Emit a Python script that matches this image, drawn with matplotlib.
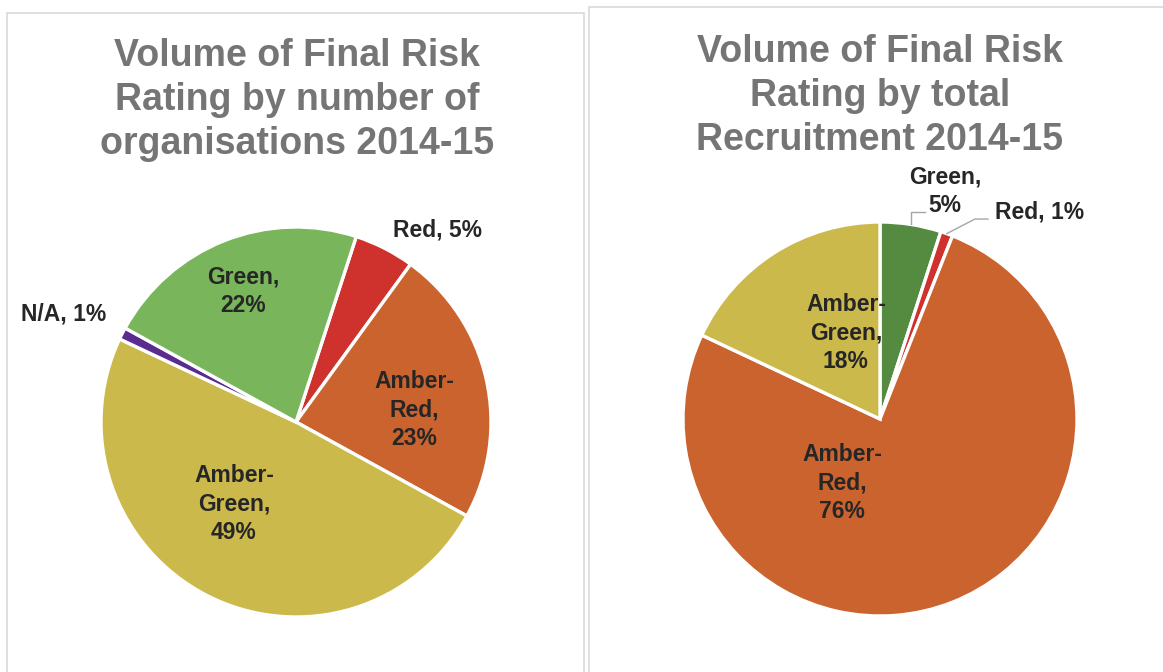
import matplotlib.pyplot as plt
import numpy as np
from matplotlib.patches import Rectangle

# ---- data ----
org_labels = ['Red', 'Amber-\nRed', 'Amber-\nGreen', 'N/A', 'Green']
org_values = [5, 23, 49, 1, 22]
org_colors = ['#CF312C', '#CB632E', '#CBB94B', '#5B2C90', '#79B55A']

rec_labels = ['Green', 'Red', 'Amber-\nRed', 'Amber-\nGreen']
rec_values = [5, 1, 76, 18]
rec_colors = ['#548B40', '#CF312C', '#CB632E', '#CBB94B']

title_left = 'Volume of Final Risk\nRating by number of\norganisations 2014-15'
title_right = 'Volume of Final Risk\nRating by total\nRecruitment 2014-15'

W, H = 1163, 672
plt.rcParams['font.family'] = ['Liberation Sans', 'DejaVu Sans']

fig = plt.figure(figsize=(W / 100, H / 100), dpi=100)
fig.patch.set_facecolor('white')

# panel frames
fig.patches.append(Rectangle((7 / W, -0.1), 577 / W, 1.1 - 13 / H, transform=fig.transFigure,
                             fill=False, edgecolor='#D9D9D9', linewidth=1.2))
fig.patches.append(Rectangle((589 / W, -0.1), 0.6, 1.1 - 7 / H, transform=fig.transFigure,
                             fill=False, edgecolor='#D9D9D9', linewidth=1.2))

title_style = dict(ha='center', va='center', fontsize=27, fontweight='bold',
                   color='#757575', linespacing=1.3)
fig.text(297 / W, 1 - 100 / H, title_left, **title_style)
fig.text(880 / W, 1 - 96 / H, title_right, **title_style)


def pie_axes(cx, cy, r):
    ax = fig.add_axes([(cx - r) / W, (H - cy - r) / H, 2 * r / W, 2 * r / H])
    ax.set_xlim(-1, 1)
    ax.set_ylim(-1, 1)
    ax.set_aspect('equal')
    ax.axis('off')
    return ax


lab_style = dict(ha='center', va='center', fontsize=16.5, fontweight='bold',
                 color='#262626', linespacing=1.32)

# left pie
ax1 = pie_axes(296, 422, 195)
ax1.pie(org_values, colors=org_colors, startangle=72, counterclock=False, radius=1,
        wedgeprops=dict(edgecolor='white', linewidth=2.4))
ax1.set_xlim(-1, 1)
ax1.set_ylim(-1, 1)
org_pos = [(0.728, 0.985), (0.605, 0.062), (-0.318, -0.421), (-1.19, 0.554), (-0.272, 0.672)]
for lab, v, (x, y) in zip(org_labels, org_values, org_pos):
    txt = lab + (',\n' if '\n' in lab or lab == 'Green' else ', ') + f'{v}%'
    ax1.text(x, y, txt, **lab_style)

# right pie
ax2 = pie_axes(880, 419, 197)
ax2.pie(rec_values, colors=rec_colors, startangle=90, counterclock=False, radius=1,
        wedgeprops=dict(edgecolor='white', linewidth=2.4))
ax2.set_xlim(-1, 1)
ax2.set_ylim(-1, 1)
rec_pos = [(0.33, 1.157), (0.812, 1.051), (-0.193, -0.325), (-0.173, 0.437)]
for lab, v, (x, y) in zip(rec_labels, rec_values, rec_pos):
    txt = lab + (', ' if lab == 'Red' else ',\n') + f'{v}%'
    ax2.text(x, y, txt, clip_on=False, **lab_style)

# leader lines for the two small slices
cum = np.cumsum([0] + rec_values) / sum(rec_values) * 360
mids = (cum[:-1] + cum[1:]) / 2
leader_start = {0: (0.228, 1.051), 1: (0.548, 1.015)}
for i, (sx, sy) in leader_start.items():
    th = np.deg2rad(mids[i])
    ex, ey = np.sin(th), np.cos(th)
    ax2.plot([sx, ex, ex] if i == 0 else [sx, sx - 0.066, ex],
             [sy, sy, ey] if i == 0 else [sy, sy, ey],
             color='#A6A6A6', linewidth=1, clip_on=False)

fig.savefig('out.png', dpi=100, facecolor='white')
